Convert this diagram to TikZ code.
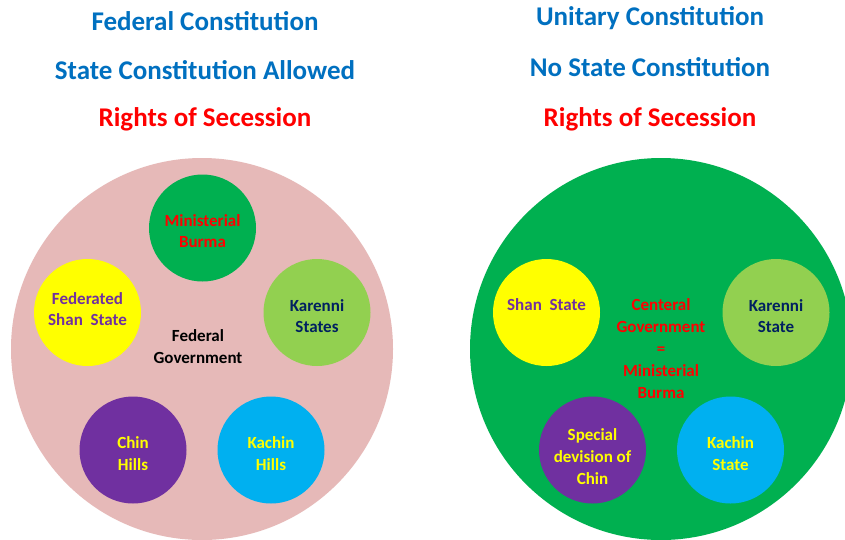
\documentclass[tikz,border=0pt]{standalone}
\usepackage{fontspec}
\setmainfont{Carlito}
\definecolor{pinkbg}{HTML}{E6B9B8}
\definecolor{gbig}{HTML}{00B050}
\definecolor{ylw}{HTML}{FFFF00}
\definecolor{lgreen}{HTML}{92D050}
\definecolor{purp}{HTML}{7030A0}
\definecolor{lblue}{HTML}{00B0F0}
\definecolor{tblue}{HTML}{0070C0}
\definecolor{tred}{HTML}{FF0000}
\definecolor{navy}{HTML}{002060}
\tikzset{
  bigc/.style={circle, minimum size=382pt, inner sep=0pt},
  smallc/.style={circle, minimum size=107pt, inner sep=0pt},
  title/.style={font=\fontsize{27}{30}\selectfont\bfseries, inner sep=0pt},
  ctext/.style={align=center, inner sep=0pt, font=\fontsize{17}{21.8}\selectfont\bfseries}
}
\begin{document}
\begin{tikzpicture}[x=1pt,y=-1pt]
\useasboundingbox (0,0) rectangle (845,539);
\fill[white] (0,0) rectangle (845,539);
\begin{scope}
\clip (0,0) rectangle (845,539);
\node[bigc, fill=pinkbg] (fedbig) at (202,349) {};
\node[bigc, fill=gbig] (unibig) at (661,349) {};
\end{scope}
% titles
\node[title, text=tblue] (t1) at (205,21) {Federal Constitution};
\node[title, text=tblue] (t2) at (205,70) {State Constitution Allowed};
\node[title, text=tred] (t3) at (205,119) {Rights of Secession};
\node[title, text=tblue] (t4) at (650,18) {Unitary Constitution};
\node[title, text=tblue] (t5) at (650,67) {No State Constitution};
\node[title, text=tred] (t6) at (650,119) {Rights of Secession};
% left circles
\node[smallc, fill=gbig] (minb) at (202.5,228) {};
\node[smallc, fill=ylw] (fshan) at (87.5,312.5) {};
\node[smallc, fill=lgreen] (kar1) at (317,312.5) {};
\node[smallc, fill=purp] (chin1) at (133,450) {};
\node[smallc, fill=lblue] (kach1) at (271,450) {};
% left texts
\node[ctext, text=tred] (minbt) at (202.5,231) {Ministerial\\Burma};
\node[ctext, text=purp] (fshant) at (87.5,309) {Federated\\Shan\ \ State};
\node[ctext, text=navy] (kar1t) at (317,316) {Karenni\\States};
\node[ctext, text=ylw] (chin1t) at (133,453.5) {Chin\\Hills};
\node[ctext, text=ylw] (kach1t) at (271,453.5) {Kachin\\Hills};
\node[ctext, text=black] (fedgov) at (198,346.5) {Federal\\Government};
% right circles
\node[smallc, fill=ylw] (shan2) at (546.5,312.5) {};
\node[smallc, fill=lgreen] (kar2) at (776,312.5) {};
\node[smallc, fill=purp] (chin2) at (592.5,450) {};
\node[smallc, fill=lblue] (kach2) at (730.5,450) {};
% right texts
\node[ctext, text=purp] (shan2t) at (546.5,305) {Shan\ \ State};
\node[ctext, text=navy] (kar2t) at (776,316) {Karenni\\State};
\node[ctext, text=ylw] (chin2t) at (592.5,456.5) {Special\\devision of\\Chin};
\node[ctext, text=ylw] (kach2t) at (730.5,453.5) {Kachin\\State};
\node[ctext, text=tred] (cengov) at (661,348.5) {Centeral\\Government\\=\\Ministerial\\Burma};
\end{tikzpicture}
\end{document}
